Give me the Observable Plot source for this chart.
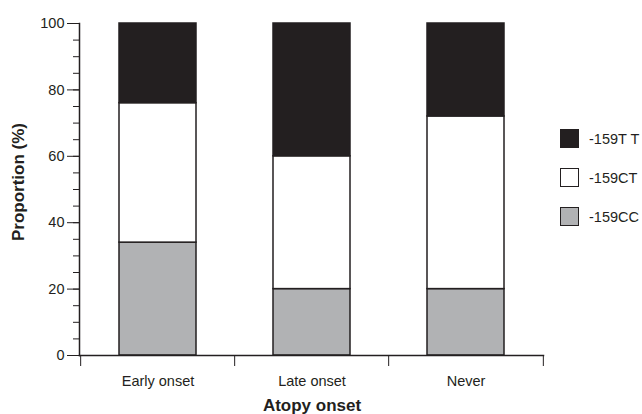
<!DOCTYPE html>
<html>
<head>
<meta charset="utf-8">
<script src="https://cdn.jsdelivr.net/npm/d3@7"></script>
<script src="https://cdn.jsdelivr.net/npm/@observablehq/plot@0.6"></script>
<style>
  html, body { margin: 0; padding: 0; background: #fff; }
  #wrap { position: relative; width: 642px; height: 414px; font-family: "Liberation Sans", Arial, sans-serif; color: #231f20; }
  .title { position: absolute; font-weight: bold; font-size: 17px; white-space: nowrap; }
  #ytitle { left: 19px; top: 182px; transform: translate(-50%, -50%) rotate(-90deg); }
  #xtitle { left: 312px; top: 406px; transform: translate(-50%, -50%); }
  #legend { position: absolute; left: 560px; top: 129px; font-size: 14.5px; }
  .item { display: flex; align-items: center; height: 19px; margin-bottom: 20px; }
  .sw { width: 17px; height: 17px; border: 1.5px solid #231f20; margin-right: 10px; box-sizing: content-box; }
</style>
</head>
<body>
<div id="wrap">
  <div id="chart"></div>
  <div id="ytitle" class="title">Proportion (%)</div>
  <div id="xtitle" class="title">Atopy onset</div>
  <div id="legend"></div>
</div>
<script>
const groups = ["Early onset", "Late onset", "Never"];
const genotypes = ["-159CC", "-159CT", "-159T T"];
const valuesCC = [34, 20, 20];
const valuesCT = [42, 40, 52];
const valuesTT = [24, 40, 28];
const colors = ["#b1b2b4", "#ffffff", "#231f20"];
const legendOrder = ["-159T T", "-159CT", "-159CC"];
const majorTicks = [0, 20, 40, 60, 80, 100];
const minorTicks = d3.range(0, 101, 5);

const series = [valuesCC, valuesCT, valuesTT];
const rows = [];
genotypes.forEach((g, gi) => groups.forEach((grp, i) => rows.push({group: grp, genotype: g, value: series[gi][i]})));

const W = 642, H = 414, mL = 79, mR = 99, mT = 23, mB = 59;
const step = (W - mL - mR) / groups.length;
const ink = "#231f20";

const chart = Plot.plot({
  width: W, height: H,
  marginLeft: mL, marginRight: mR, marginTop: mT, marginBottom: mB,
  style: {fontFamily: "Liberation Sans, Arial, sans-serif", fontSize: "14px", color: ink, background: "#fff"},
  x: {domain: groups, paddingInner: 0.5, paddingOuter: 0.25, axis: null},
  y: {domain: [0, 100], axis: null},
  color: {domain: genotypes, range: colors},
  marks: [
    Plot.barY(rows, {x: "group", y: "value", fill: "genotype", stroke: ink, strokeWidth: 1.5}),
    Plot.frame({anchor: "left", stroke: ink, strokeWidth: 1.5}),
    Plot.frame({anchor: "bottom", stroke: ink, strokeWidth: 1.5}),
    Plot.axisY(minorTicks, {tickSize: 6, tickFormat: () => "", stroke: ink, label: null}),
    Plot.axisY(majorTicks, {tickSize: 12, tickPadding: 3, fontSize: 14.5, stroke: ink, fill: ink, label: null}),
    Plot.axisX(groups, {tickSize: 11, tickFormat: () => "", dx: -step / 2, stroke: ink, label: null}),
    Plot.axisX([groups[groups.length - 1]], {tickSize: 11, tickFormat: () => "", dx: step / 2, stroke: ink, label: null}),
    Plot.axisX(groups, {tickSize: 0, tickPadding: 20, fontSize: 14.5, fill: ink, label: null})
  ]
});
document.getElementById("chart").appendChild(chart);

const legend = document.getElementById("legend");
legendOrder.forEach(g => {
  const item = document.createElement("div");
  item.className = "item";
  const sw = document.createElement("div");
  sw.className = "sw";
  sw.style.background = colors[genotypes.indexOf(g)];
  const t = document.createElement("span");
  t.textContent = g;
  item.appendChild(sw); item.appendChild(t);
  legend.appendChild(item);
});
</script>
</body>
</html>
